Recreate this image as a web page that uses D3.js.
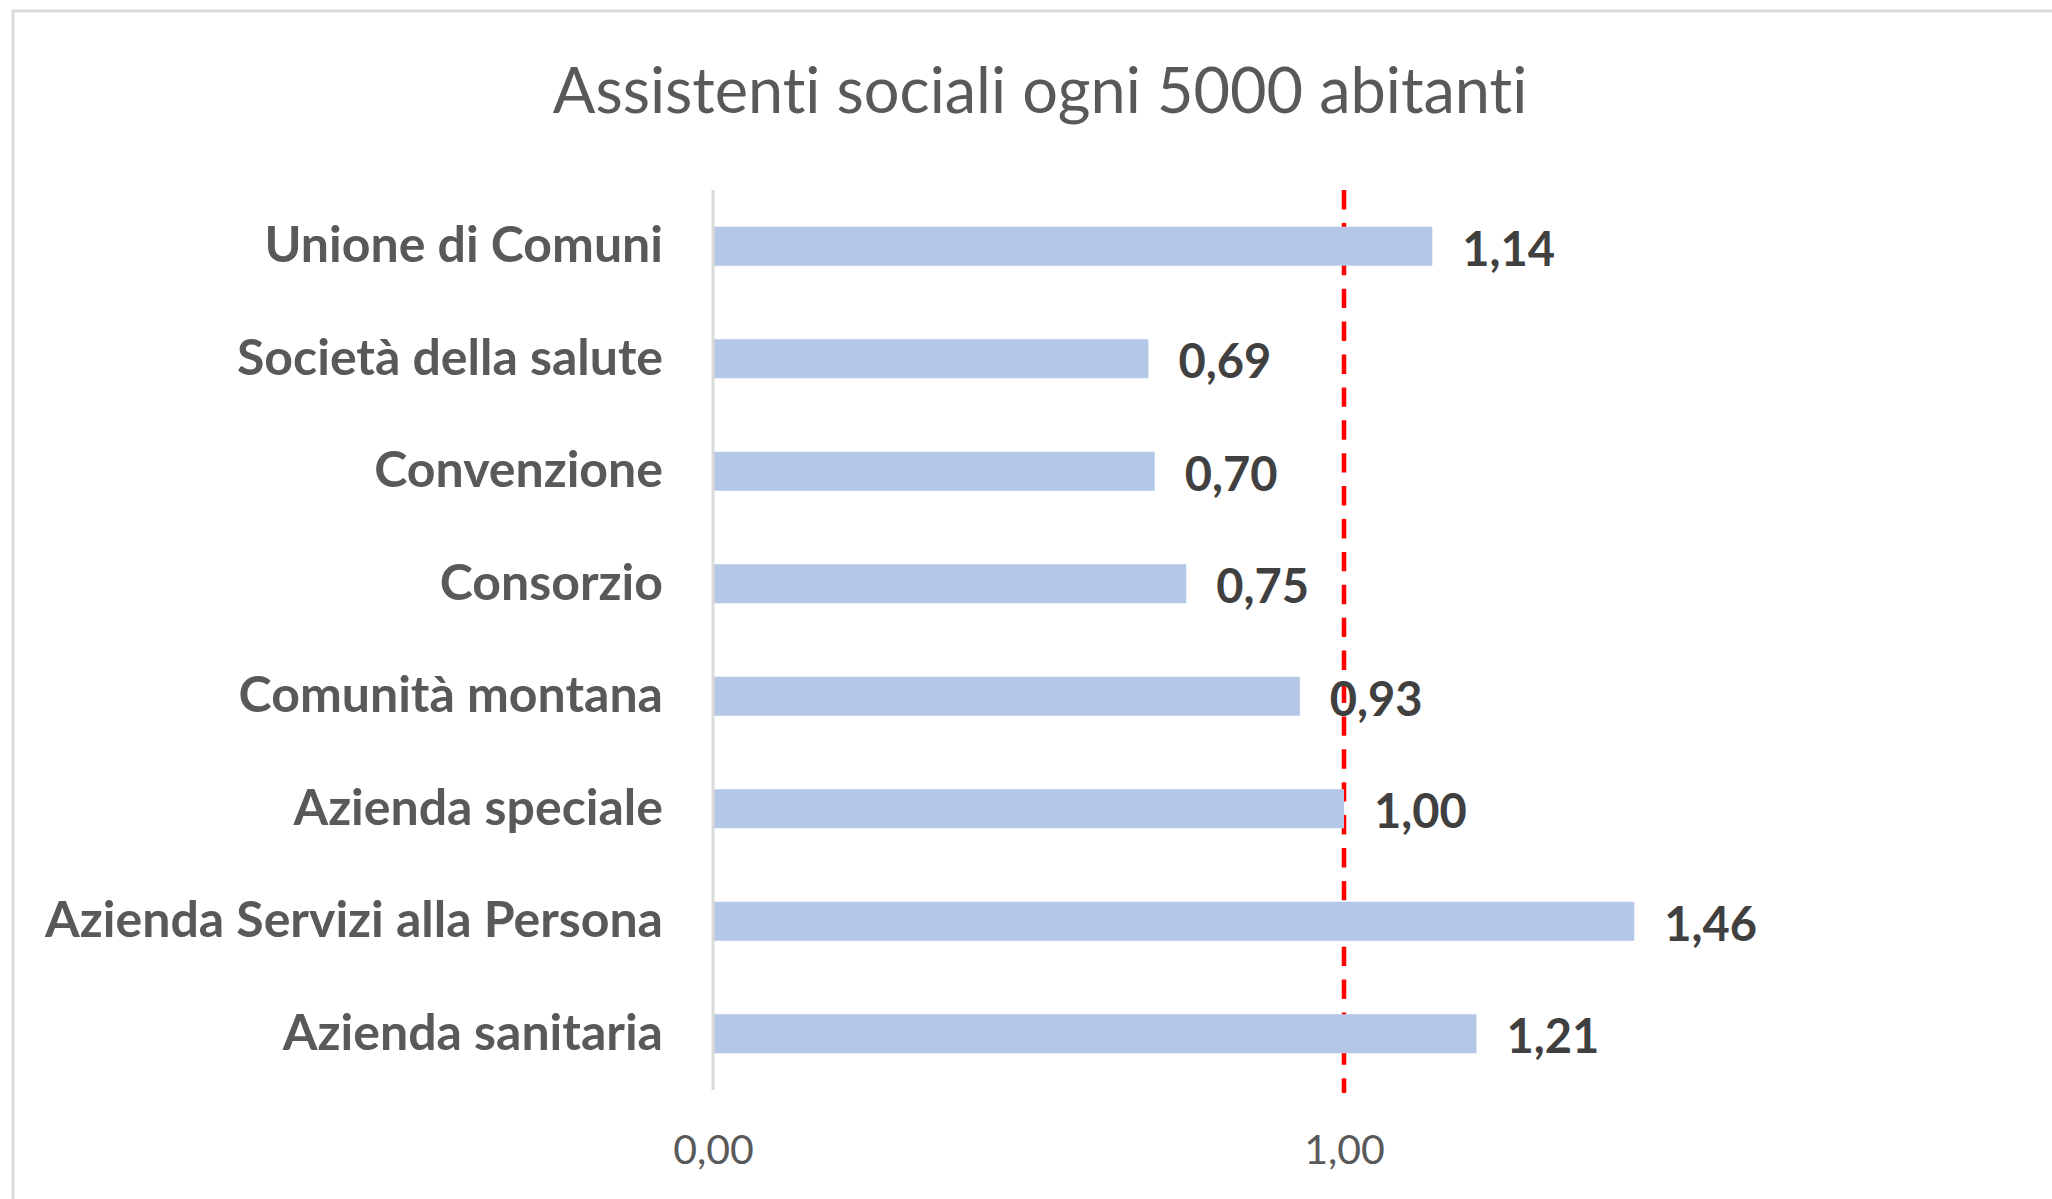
<!DOCTYPE html>
<html>
<head>
<meta charset="utf-8">
<script src="https://cdn.jsdelivr.net/npm/d3@7"></script>
<style>
  body { margin: 0; background: #fff; }
  text { font-family: Lato, "Open Sans", sans-serif; font-variant-ligatures: none; }
</style>
</head>
<body>
<svg id="chart"></svg>
<script>
// data, top to bottom as drawn
var categories = ["Unione di Comuni", "Società della salute", "Convenzione", "Consorzio",
  "Comunità montana", "Azienda speciale", "Azienda Servizi alla Persona", "Azienda sanitaria"];
var values = [1.14, 0.69, 0.70, 0.75, 0.93, 1.00, 1.46, 1.21];
var tickValues = [0, 1];
var refValue = 1;
var chartTitle = "Assistenti sociali ogni 5000 abitanti";

var W = 2052, H = 1199;
var plot = { left: 713, right: 1344, top: 190, bottom: 1090 };

var svg = d3.select("#chart").attr("width", W).attr("height", H);

// frame around the chart (runs past the right/bottom edge in the original)
svg.append("rect")
  .attr("x", 13).attr("y", 11)
  .attr("width", W + 20).attr("height", H + 20)
  .attr("fill", "#fff")
  .attr("stroke", "#d9d9d9").attr("stroke-width", 3);

var fmt = function(v) { return d3.format(".2f")(v).replace(".", ","); };

var x = d3.scaleLinear().domain([0, 1]).range([plot.left, plot.right]);
var y = d3.scaleBand().domain(categories)
  .range([plot.top, plot.bottom])
  .paddingInner(0.653).paddingOuter(0.3265);

// title
svg.append("text")
  .attr("x", 1040).attr("y", 113)
  .attr("text-anchor", "middle")
  .attr("font-size", 63)
  .attr("fill", "#595959")
  .text(chartTitle);

// reference line at 1,00 (sits behind the bars)
svg.append("line")
  .attr("x1", x(refValue)).attr("x2", x(refValue))
  .attr("y1", plot.top).attr("y2", plot.bottom + 3)
  .attr("stroke", "#ff0000").attr("stroke-width", 4.5)
  .attr("stroke-dasharray", "19.4,13.5");

// bars
svg.append("g").selectAll("rect")
  .data(values)
  .join("rect")
  .attr("x", x(0))
  .attr("y", function(d, i) { return y(categories[i]); })
  .attr("width", function(d) { return x(d) - x(0); })
  .attr("height", y.bandwidth())
  .attr("fill", "#b4c7e7");

// vertical axis line
svg.append("line")
  .attr("x1", x(0)).attr("x2", x(0))
  .attr("y1", plot.top).attr("y2", plot.bottom)
  .attr("stroke", "#d9d9d9").attr("stroke-width", 3);

// category labels
var yAxis = svg.append("g")
  .attr("transform", "translate(" + x(0) + ",0)")
  .call(d3.axisLeft(y).tickSize(0).tickPadding(50));
yAxis.select(".domain").remove();
yAxis.selectAll("text")
  .attr("font-size", 50)
  .attr("font-weight", "bold")
  .attr("fill", "#595959")
  .attr("font-family", "Lato");

// x tick labels
var xAxis = svg.append("g")
  .attr("transform", "translate(0," + plot.bottom + ")")
  .call(d3.axisBottom(x).tickValues(tickValues).tickFormat(fmt).tickSize(0).tickPadding(45));
xAxis.select(".domain").remove();
xAxis.selectAll("text")
  .attr("font-size", 41)
  .attr("fill", "#595959")
  .attr("font-family", "Lato");

// value labels
svg.append("g").selectAll("text")
  .data(values)
  .join("text")
  .attr("x", function(d) { return x(d) + 30; })
  .attr("y", function(d, i) { return y(categories[i]) + y.bandwidth() / 2 + 3; })
  .attr("dy", "0.35em")
  .attr("font-size", 47)
  .attr("font-weight", "bold")
  .attr("fill", "#404040")
  .text(fmt);
</script>
</body>
</html>
